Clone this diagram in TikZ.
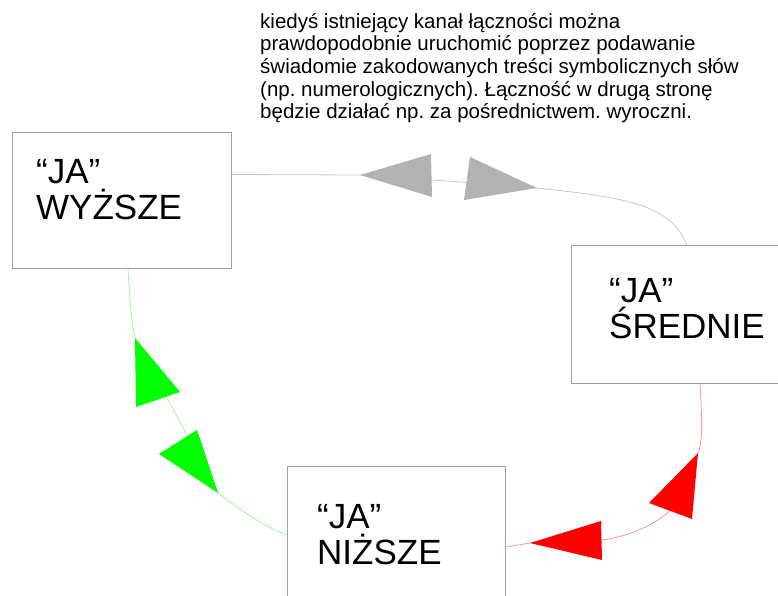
\documentclass[tikz,border=0pt]{standalone}
\usepackage{fontspec}
\setmainfont{Liberation Sans}
\frenchspacing
\definecolor{boxline}{RGB}{160,160,160}
\definecolor{greyline}{RGB}{200,200,200}
\definecolor{greyhead}{RGB}{178,178,178}
\definecolor{greenline}{RGB}{150,255,150}
\definecolor{greenhead}{RGB}{0,255,0}
\definecolor{redline}{RGB}{255,150,150}
\definecolor{redhead}{RGB}{255,0,0}
\begin{document}
\begin{tikzpicture}[x=1pt,y=-1pt,
  selfbox/.style={draw=boxline,line width=1pt,fill=white,rectangle,anchor=north west,inner sep=0pt},
  selflabel/.style={anchor=base west,align=left,inner sep=0pt,font=\fontsize{35}{36}\selectfont},
  notetext/.style={anchor=base west,align=left,inner sep=0pt,font=\fontsize{20.5}{22.6}\selectfont},
  link/.style={line width=0.8pt}]
\useasboundingbox (0,0) rectangle (778,596);
\clip (0,0) rectangle (778,596);

% the three selves
\node[selfbox,minimum width=219pt,minimum height=136pt] (wy) at (12,132) {};
\node[selfbox,minimum width=230pt,minimum height=138pt] (sr) at (571,245) {};
\node[selfbox,minimum width=218pt,minimum height=150pt] (nz) at (287,466) {};

% labels are placed by the baseline of their last line
\node[selflabel] (wyt) at (36,219) {“JA”\\WYŻSZE};
\node[selflabel] (srt) at (609,338) {“JA”\\ŚREDNIE};
\node[selflabel] (nzt) at (317,564) {“JA”\\NIŻSZE};

% explanatory note
\node[notetext] (note) at (260,118.7) {kiedyś istniejący kanał łączności można\\
prawdopodobnie uruchomić poprzez podawanie\\
świadomie zakodowanych treści symbolicznych słów\\
(np. numerologicznych). Łączność w drugą stronę\\
będzie działać np. za pośrednictwem. wyroczni.};

% upper channel (higher <-> middle)
\draw[link,greyline] ([yshift=26pt]wy.east) -- (360,175)
  .. controls (450,181) and (500,185) .. (537,188)
  .. controls (630,198) and (670,205) .. ([xshift=116pt]sr.north west);
\fill[greyhead] (360,175) -- (431,154) -- (432,197) -- cycle;
\fill[greyhead] (537,188) -- (470,157) -- (464,200) -- cycle;

% left channel (higher <-> lower)
\draw[link,greenline] ([xshift=116pt]wy.south west)
  .. controls (130,305) and (132,325) .. (135,338) -- (218,493)
  .. controls (238,508) and (262,526) .. ([yshift=-69pt]nz.north west);
\fill[greenhead] (135,338) -- (136,407) -- (180,392) -- cycle;
\fill[greenhead] (218,493) -- (159,454) -- (197,430) -- cycle;

% right channel (middle -> lower)
\draw[link,redline] ([xshift=129pt]sr.south west)
  .. controls (702,420) and (703,440) .. (698,453) -- (670,511)
  .. controls (650,528) and (625,537) .. (602,540) -- (530,543)
  -- ([yshift=-81pt]nz.north east);
\fill[redhead] (698,453) -- (649,503) -- (692,519) -- cycle;
\fill[redhead] (530,543) -- (601,521) -- (602,560) -- cycle;
\end{tikzpicture}
\end{document}
